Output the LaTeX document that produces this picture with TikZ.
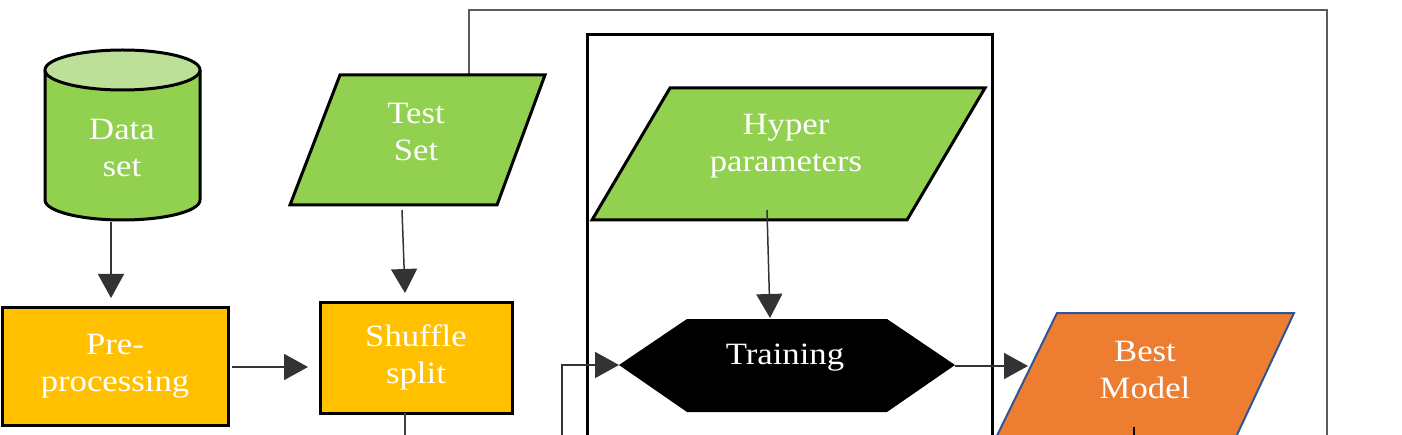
\documentclass[tikz,border=0pt]{standalone}
\usepackage{fontspec}
\setmainfont{Liberation Serif}[FakeStretch=1.12]
\usetikzlibrary{arrows.meta,calc}
\definecolor{grn}{HTML}{92D050}
\definecolor{grnlt}{HTML}{BCE097}
\definecolor{amb}{HTML}{FFC000}
\definecolor{org}{HTML}{ED7D31}
\definecolor{blu}{HTML}{2F5597}
\definecolor{framegray}{HTML}{5A5A5A}
\begin{document}
\begin{tikzpicture}[x=0.5pt,y=0.5pt,
  lbl/.style={text=white, align=center, font=\fontsize{15.5}{18.5}\selectfont, inner sep=0pt},
  box/.style={draw=black, line width=1.5pt, fill=amb, inner sep=0pt, text=white, align=center, font=\fontsize{15.5}{18.5}\selectfont},
  shapeline/.style={draw=black, line width=1.5pt, line join=miter},
  arr/.style={draw=black!80, line width=0.75pt, -{Triangle[length=12pt,width=13pt]}},
  plainline/.style={draw=black!75, line width=0.75pt},
  framel/.style={draw=framegray, line width=1.2pt, line join=miter},
]
\useasboundingbox (0,0) rectangle (1402,434);
\clip (0,0) rectangle (1402,434);
\fill[white] (0,0) rectangle (1402,434);

% outer gray frame from Test Set
\coordinate (tsTop) at (469,359);
\coordinate (frTL) at (469,424);
\coordinate (frTR) at (1327,424);
\coordinate (frBR) at (1327,-20);
\draw[framel] (tsTop) -- (frTL) -- (frTR) -- (frBR);

% big black box
\coordinate (bbBL) at (587,-20);
\coordinate (bbTL) at (587,399);
\coordinate (bbTR) at (992,399);
\coordinate (bbBR) at (992,-20);
\draw[shapeline] (bbBL) -- (bbTL) -- (bbTR) -- (bbBR);

% Data set cylinder
\fill[grn] (45,364) -- (45,234) arc[start angle=180,end angle=360,x radius=38.75pt,y radius=10pt] -- (200,364) -- cycle;
\draw[shapeline] (45,364) -- (45,234) arc[start angle=180,end angle=360,x radius=38.75pt,y radius=10pt] -- (200,364);
\draw[shapeline, fill=grnlt] (122.5,364) ellipse [x radius=38.75pt, y radius=10pt];
\node[lbl] (ds) at (122,286) {Data\\set};
\coordinate (dsB) at (111,212);

% Pre-processing
\node[box, minimum width=113pt, minimum height=59pt] (pre) at (115,68) {Pre-\\processing};
\coordinate (preIn) at (111,136);
\coordinate (preOut) at (232,67);

% Shuffle split
\node[box, minimum width=96pt, minimum height=55.5pt] (ss) at (416,76.5) {Shuffle\\split};
\coordinate (ssIn) at (405,141);
\coordinate (ssW) at (308,67);
\coordinate (ssB) at (405,21);
\coordinate (ssDown) at (405,-20);

% Test Set
\path[shapeline, fill=grn] (340,359) -- (545,359) -- (497,229) -- (290,229) -- cycle;
\node[lbl] (ts) at (416,302) {Test\\Set};
\coordinate (tsB) at (402,224);

% Hyper parameters
\path[shapeline, fill=grn] (670,346) -- (985,346) -- (907,214) -- (592,214) -- cycle;
\node[lbl] (hp) at (786,287.5) {Hyper\\parameters};
\coordinate (hpB) at (767,224);

% Training
\path[fill=black] (619,69) -- (687,115) -- (887,115) -- (955,69) -- (887,22) -- (687,22) -- cycle;
\node[lbl] (tr) at (785,76) {Training};
\coordinate (trTop) at (770,116);
\coordinate (trW) at (619,69);
\coordinate (trE) at (955,68);
\coordinate (loopB) at (562,-20);
\coordinate (loopC) at (562,69);

% Best Model
\path[draw=blu, line width=1pt, fill=org, line join=miter] (1057,121) -- (1294,121) -- (1228,-20) -- (988,-20) -- cycle;
\node[lbl] (bm) at (1145,64) {Best\\Model};
\coordinate (bmW) at (1028,68);
\coordinate (bmTick) at (1134,7);
\coordinate (bmDown) at (1134,-20);

% connectors
\draw[arr] (dsB) -- (preIn);
\draw[arr] (preOut) -- (ssW);
\draw[arr] (tsB) -- (ssIn);
\draw[plainline] (ssB) -- (ssDown);
\draw[arr] (hpB) -- (trTop);
\draw[arr] (loopB) -- (loopC) -- (trW);
\draw[arr] (trE) -- (bmW);
\draw[draw=black, line width=1pt] (bmTick) -- (bmDown);
\end{tikzpicture}
\end{document}
